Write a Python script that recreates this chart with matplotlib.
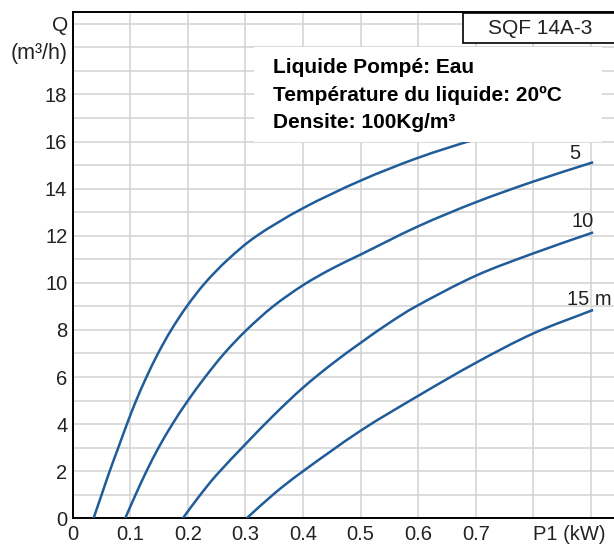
import numpy as np
import matplotlib.pyplot as plt
from matplotlib.patches import Rectangle, PathPatch
from matplotlib.path import Path

plt.rcParams['font.family'] = ['Liberation Sans', 'DejaVu Sans']

p_0m = [0.036, 0.05, 0.064, 0.079, 0.094, 0.11, 0.128, 0.148, 0.171, 0.198, 0.23, 0.27, 0.32, 0.4, 0.5, 0.6, 0.7, 0.8, 0.9]
q_0m = [0, 1, 2, 3, 4, 5, 6, 7, 8, 9, 10, 11, 12, 13.17, 14.34, 15.31, 16.1, 16.8, 17.4]

p_5m = [0.091, 0.109, 0.128, 0.149, 0.173, 0.2, 0.23, 0.263, 0.302, 0.348, 0.4, 0.45, 0.5, 0.6, 0.7, 0.8, 0.904]
q_5m = [0, 1, 2, 3, 4, 5, 6, 7, 8, 9, 9.9, 10.6, 11.2, 12.4, 13.42, 14.3, 15.12]

p_10m = [0.191, 0.22, 0.25, 0.3, 0.35, 0.4, 0.45, 0.5, 0.55, 0.6, 0.7, 0.8, 0.904]
q_10m = [0, 0.95, 1.85, 3.15, 4.4, 5.55, 6.55, 7.45, 8.3, 9.05, 10.3, 11.25, 12.14]

p_15m = [0.302, 0.35, 0.4, 0.5, 0.6, 0.7, 0.8, 0.904]
q_15m = [0, 1.05, 2.0, 3.72, 5.2, 6.6, 7.85, 8.85]

labels_courbes = ['5', '10', '15 m']
label_pos = [(0.873, 15.5), (0.885, 12.62), (0.859, 9.31)]

x_grid = np.round(np.arange(0, 1.0, 0.1), 1)
x_labels = ['0', '0.1', '0.2', '0.3', '0.4', '0.5', '0.6', '0.7', 'P1 (kW)', '']
y_grid = np.arange(0, 22)
y_labels = [str(v) if (v % 2 == 0 and v <= 18) else '' for v in y_grid]

info = ['Liquide Pompé: Eau', 'Température du liquide: 20ºC', 'Densite: 100Kg/m³']

couleur = '#1f5c99'


def courbe_lisse(ax, xs, ys, **kw):
    # trace une courbe passant par les points (Catmull-Rom -> Bezier cubique)
    pts = np.column_stack([xs, ys]).astype(float)
    ext = np.vstack([2 * pts[0] - pts[1], pts, 2 * pts[-1] - pts[-2]])
    verts = [pts[0]]
    codes = [Path.MOVETO]
    for i in range(1, len(ext) - 2):
        p0, p1, p2, p3 = ext[i - 1], ext[i], ext[i + 1], ext[i + 2]
        verts += [p1 + (p2 - p0) / 6, p2 - (p3 - p1) / 6, p2]
        codes += [Path.CURVE4] * 3
    ax.add_patch(PathPatch(Path(verts, codes), facecolor='none', **kw))


fig = plt.figure(figsize=(6.14, 5.44), dpi=100)
ax = fig.add_axes([0.1186, 0.0472, 0.8814, 0.9307])

for p, q in [(p_0m, q_0m), (p_5m, q_5m), (p_10m, q_10m), (p_15m, q_15m)]:
    courbe_lisse(ax, p, q, edgecolor=couleur, lw=1.8, zorder=3, capstyle='butt')

for txt, (x, y) in zip(labels_courbes, label_pos):
    ha = 'left' if txt == '15 m' else 'center'
    ax.text(x, y, txt, fontsize=14.5, color='#222222', ha=ha, va='center', zorder=4)

ax.set_xlim(0, 0.9403)
ax.set_ylim(0, 21.5)
ax.set_xticks(x_grid)
ax.set_xticklabels(x_labels)
ax.set_yticks(y_grid)
ax.set_yticklabels(y_labels)
ax.get_xticklabels()[8].set_ha('left')
ax.tick_params(axis='x', length=0, pad=4.5, labelsize=14.5, labelcolor='#222222')
ax.tick_params(axis='y', length=0, pad=4, labelsize=14.5, labelcolor='#222222')
ax.grid(True, color='#d2d2d2', lw=1.1, zorder=0)
ax.set_axisbelow(True)

for s in ['left', 'bottom', 'top']:
    ax.spines[s].set_color('black')
    ax.spines[s].set_linewidth(1.4)
ax.spines['right'].set_visible(False)

# titre de l'axe Q
ax.annotate('Q', xy=(0, 20.93), xycoords=('axes fraction', 'data'), xytext=(-5, 0),
            textcoords='offset pixels', ha='right', va='center', fontsize=15, color='#222222')
ax.annotate('(m³/h)', xy=(0, 19.72), xycoords=('axes fraction', 'data'), xytext=(-5, 0),
            textcoords='offset pixels', ha='right', va='center', fontsize=15.5, color='#222222')

# cadre blanc avec les conditions
ax.add_patch(Rectangle((0.315, 16.0), 0.604, 4.0, facecolor='white', edgecolor='none', zorder=5))
for i, t in enumerate(info):
    ax.text(0.348, 18.9 - i * 1.17, t, fontsize=15, fontweight='bold', color='black',
            ha='left', va='baseline', zorder=6)

# cartouche du modèle
ax.add_patch(Rectangle((0.721, 0.939), 0.4, 0.059, transform=ax.transAxes, facecolor='white',
                       edgecolor='black', lw=1.2, zorder=7, clip_on=False))
ax.text(0.767, 0.968, 'SQF 14A-3', transform=ax.transAxes, fontsize=15, color='#222222',
        ha='left', va='center', zorder=8)

fig.savefig('out.png', dpi=100)
